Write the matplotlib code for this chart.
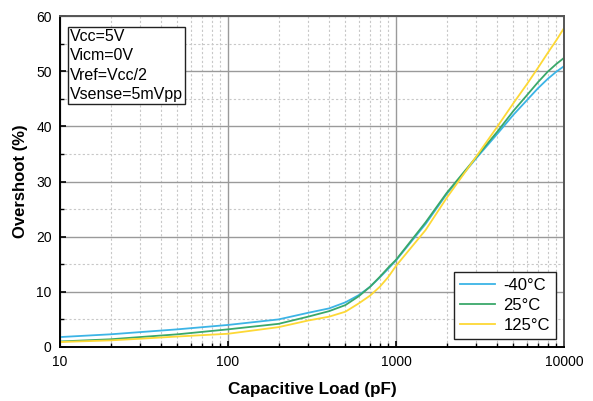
import matplotlib.pyplot as plt
from matplotlib.ticker import LogLocator, MultipleLocator, FixedLocator, NullFormatter

plt.rcParams['font.family'] = ['Liberation Sans', 'DejaVu Sans']

# Overshoot vs capacitive load, read per temperature
cap_pf = [10, 20, 30, 50, 100, 200, 300, 400, 500, 600, 700, 800, 900, 1000,
          1500, 2000, 3000, 4000, 5000, 6000, 7000, 8000, 9000, 10000]
os_m40 = [1.8, 2.3, 2.7, 3.2, 4.0, 5.0, 6.2, 7.0, 8.1, 9.4, 10.9, 12.6, 14.2, 15.7,
          22.3, 27.7, 34.2, 38.6, 42.1, 44.7, 46.9, 48.6, 49.9, 50.9]
os_25 = [1.0, 1.4, 1.8, 2.3, 3.2, 4.2, 5.5, 6.5, 7.6, 9.2, 10.9, 12.7, 14.4, 15.8,
         22.6, 27.9, 34.4, 39.0, 42.8, 45.6, 48.0, 49.9, 51.3, 52.4]
os_125 = [0.9, 1.2, 1.5, 1.9, 2.4, 3.6, 4.8, 5.5, 6.4, 7.9, 9.3, 10.9, 12.7, 14.7,
          21.2, 27.0, 34.5, 39.9, 44.2, 47.6, 50.6, 53.3, 55.6, 57.8]

labels = ['-40°C', '25°C', '125°C']
colors = ['#3cb4e6', '#3aa86a', '#fdd835']

fig = plt.figure(figsize=(5.93, 4.01), dpi=100)
ax = fig.add_axes([60 / 593, 1 - 347 / 401, 504 / 593, 331 / 401])

for ys, lab, c in zip([os_m40, os_25, os_125], labels, colors):
    ax.plot(cap_pf, ys, color=c, lw=1.3, label=lab)

ax.set_xscale('log')
ax.set_xlim(10, 10000)
ax.set_ylim(0, 60)
ax.xaxis.set_major_locator(FixedLocator([10, 100, 1000, 10000]))
ax.xaxis.set_major_formatter(plt.FuncFormatter(lambda v, p: f'{int(v)}'))
ax.xaxis.set_minor_locator(LogLocator(base=10, subs=range(2, 10)))
ax.xaxis.set_minor_formatter(NullFormatter())
ax.yaxis.set_major_locator(MultipleLocator(10))
ax.yaxis.set_minor_locator(MultipleLocator(5))

ax.grid(which='major', color='#9a9a9a', lw=1.0, ls='-')
ax.grid(which='minor', color='#c8c8c8', lw=0.8, ls=(0, (2, 2)))
ax.set_axisbelow(True)

ax.tick_params(which='both', direction='in', top=False, right=False, labelsize=10, pad=6)
ax.tick_params(which='major', length=4, width=1.2)
ax.tick_params(which='minor', length=3, width=1.0)

for side in ['left', 'bottom']:
    ax.spines[side].set_color('black')
    ax.spines[side].set_linewidth(1.4)
for side in ['top', 'right']:
    ax.spines[side].set_color('#555555')
    ax.spines[side].set_linewidth(1.4)

ax.set_xlabel('Capacitive Load (pF)', fontsize=12.3, fontweight='bold', labelpad=9)
ax.set_ylabel('Overshoot (%)', fontsize=12, fontweight='bold', labelpad=6)

ax.text(0.02, 0.962, 'Vcc=5V\nVicm=0V\nVref=Vcc/2\nVsense=5mVpp',
        transform=ax.transAxes, ha='left', va='top', fontsize=11.5, linespacing=1.38,
        bbox=dict(boxstyle='square,pad=0.12', fc='white', ec='#222222', lw=1.0))

leg = ax.legend(loc='lower right', fontsize=12, frameon=True, fancybox=False,
                edgecolor='#222222', framealpha=1, handlelength=2.1,
                borderaxespad=0.5, labelspacing=0.3, handletextpad=0.5,
                borderpad=0.35)
leg.get_frame().set_linewidth(1.0)

fig.savefig('out.png', dpi=100)
